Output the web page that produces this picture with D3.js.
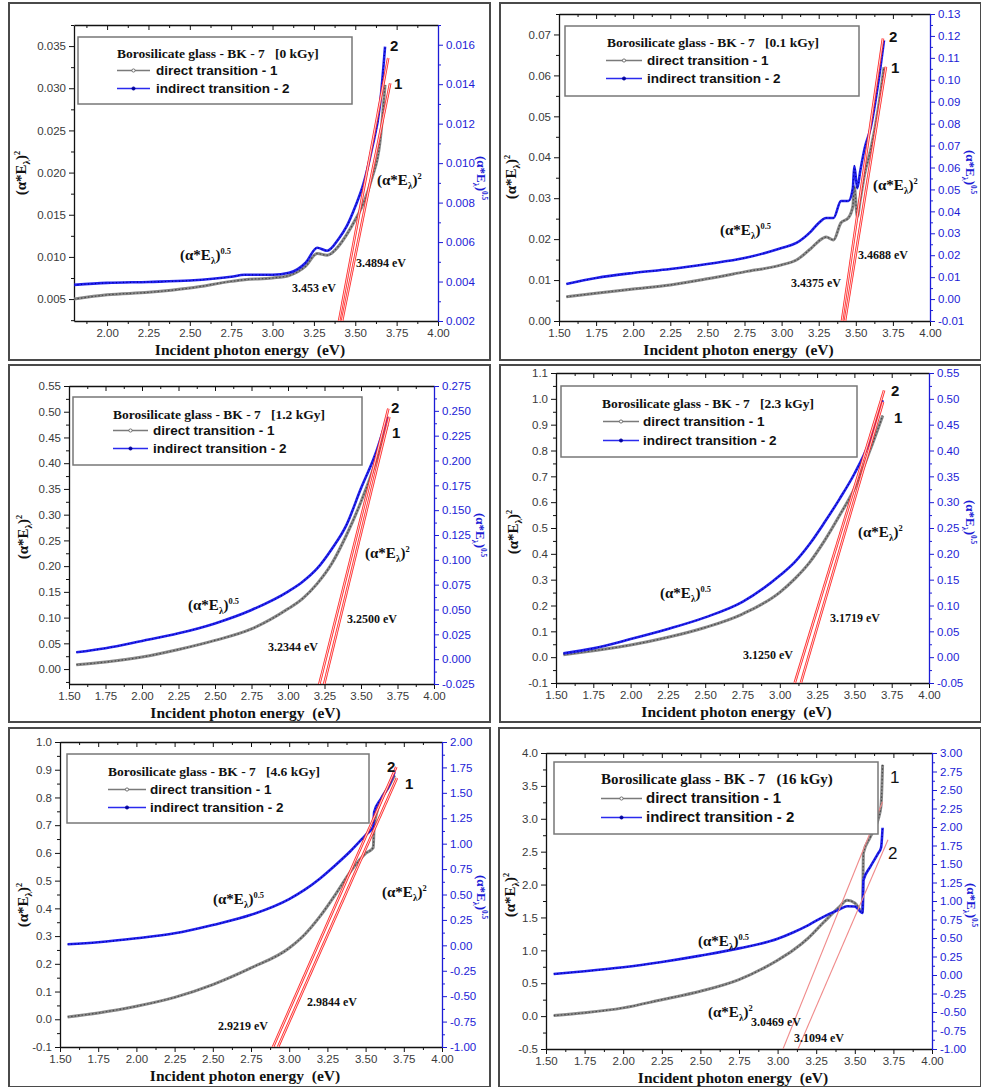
<!DOCTYPE html>
<html>
<head>
<meta charset="utf-8">
<script src="https://cdn.jsdelivr.net/npm/d3@7"></script>
<style>
  body { margin: 0; background: #fff; }
  svg { display: block; }
</style>
</head>
<body>
<div id="chart"></div>
<script>
// ---- data ----
const xTicksP1 = [2.00, 2.25, 2.50, 2.75, 3.00, 3.25, 3.50, 3.75, 4.00];
const xTicksAll = [1.50, 1.75, 2.00, 2.25, 2.50, 2.75, 3.00, 3.25, 3.50, 3.75, 4.00];

// 0 kGy
const p1Energy   = [1.8, 2.0, 2.25, 2.5, 2.75, 2.83, 3.0, 3.1, 3.2, 3.27, 3.33, 3.4, 3.45, 3.5, 3.55, 3.6, 3.65, 3.68];
const p1Direct   = [0.0050, 0.0055, 0.0058, 0.0063, 0.0071, 0.0073, 0.0075, 0.0078, 0.0089, 0.0104, 0.0102, 0.0113, 0.0127, 0.0144, 0.0164, 0.0193, 0.0237, 0.0304];
const p1Indirect = [0.00383, 0.00393, 0.00398, 0.00405, 0.00424, 0.00434, 0.00434, 0.00444, 0.00495, 0.00571, 0.00556, 0.00617, 0.00683, 0.0078, 0.00897, 0.0107, 0.0130, 0.0159];
const p1Fits = [[3.402, 0.0024, 3.699, 0.0336], [3.420, 0.0024, 3.711, 0.0306]];
const p1Gaps = ["3.453 eV", "3.4894 eV"];
const p1LeftTicks = [0.005, 0.010, 0.015, 0.020, 0.025, 0.030, 0.035];
const p1RightTicks = [0.002, 0.004, 0.006, 0.008, 0.010, 0.012, 0.014, 0.016];

// 0.1 kGy
const p2Energy   = [1.55, 1.75, 2.0, 2.25, 2.5, 2.75, 3.0, 3.1, 3.2, 3.25, 3.3, 3.35, 3.4, 3.45, 3.48, 3.49, 3.51, 3.53, 3.56, 3.6, 3.65, 3.69];
const p2Direct   = [0.0059, 0.0068, 0.0078, 0.0088, 0.0103, 0.0120, 0.0137, 0.0149, 0.0178, 0.0195, 0.0205, 0.0198, 0.0240, 0.0252, 0.0280, 0.0328, 0.0255, 0.0296, 0.0360, 0.0418, 0.0516, 0.0620];
const p2Indirect = [0.0069, 0.0096, 0.0119, 0.0137, 0.0160, 0.0187, 0.0233, 0.0256, 0.0310, 0.0347, 0.0370, 0.0370, 0.0447, 0.0447, 0.0506, 0.0607, 0.0506, 0.0584, 0.0689, 0.0780, 0.0980, 0.1180];
const p2Fits = [[3.407, 0, 3.683, 0.069], [3.427, 0, 3.703, 0.0621]];
const p2Gaps = ["3.4375 eV", "3.4688 eV"];
const p2LeftTicks = [0.00, 0.01, 0.02, 0.03, 0.04, 0.05, 0.06, 0.07];
const p2RightTicks = [-0.01, 0.00, 0.01, 0.02, 0.03, 0.04, 0.05, 0.06, 0.07, 0.08, 0.09, 0.10, 0.11, 0.12, 0.13];

// 1.2 kGy
const p3Energy   = [1.55, 1.75, 2.0, 2.25, 2.5, 2.75, 3.0, 3.1, 3.2, 3.3, 3.4, 3.5, 3.6, 3.68];
const p3Direct   = [0.0084, 0.0136, 0.0233, 0.038, 0.0557, 0.078, 0.117, 0.137, 0.166, 0.205, 0.260, 0.325, 0.402, 0.475];
const p3Indirect = [0.0069, 0.011, 0.0183, 0.026, 0.036, 0.0495, 0.068, 0.078, 0.0914, 0.111, 0.135, 0.172, 0.207, 0.244];
const p3Fits = [[3.214, -0.03, 3.687, 0.506], [3.247, -0.03, 3.694, 0.490]];
const p3Gaps = ["3.2344 eV", "3.2500 eV"];
const p3LeftTicks = [0.00, 0.05, 0.10, 0.15, 0.20, 0.25, 0.30, 0.35, 0.40, 0.45, 0.50, 0.55];
const p3RightTicks = [-0.025, 0.000, 0.025, 0.050, 0.075, 0.100, 0.125, 0.150, 0.175, 0.200, 0.225, 0.250, 0.275];

// 2.3 kGy
const p4Energy   = [1.55, 1.75, 2.0, 2.25, 2.5, 2.75, 3.0, 3.1, 3.2, 3.3, 3.4, 3.5, 3.6, 3.69];
const p4Direct   = [0.0095, 0.025, 0.047, 0.077, 0.115, 0.167, 0.251, 0.303, 0.367, 0.451, 0.548, 0.652, 0.794, 0.935];
const p4Indirect = [0.0074, 0.017, 0.035, 0.0545, 0.077, 0.107, 0.158, 0.184, 0.219, 0.261, 0.306, 0.355, 0.416, 0.497];
const p4Fits = [[3.100, -0.1, 3.699, 1.033], [3.141, -0.1, 3.692, 0.988]];
const p4Gaps = ["3.1250 eV", "3.1719 eV"];
const p4LeftTicks = [-0.1, 0.0, 0.1, 0.2, 0.3, 0.4, 0.5, 0.6, 0.7, 0.8, 0.9, 1.0, 1.1];
const p4RightTicks = [-0.05, 0.00, 0.05, 0.10, 0.15, 0.20, 0.25, 0.30, 0.35, 0.40, 0.45, 0.50, 0.55];

// 4.6 kGy
const p5Energy   = [1.55, 1.75, 2.0, 2.25, 2.5, 2.75, 3.0, 3.1, 3.2, 3.3, 3.4, 3.5, 3.55, 3.556, 3.6, 3.65, 3.69];
const p5Direct   = [0.0084, 0.023, 0.047, 0.079, 0.125, 0.185, 0.257, 0.305, 0.370, 0.448, 0.532, 0.598, 0.619, 0.694, 0.790, 0.838, 0.880];
const p5Indirect = [0.010, 0.030, 0.069, 0.118, 0.200, 0.300, 0.455, 0.545, 0.655, 0.785, 0.925, 1.085, 1.166, 1.310, 1.440, 1.560, 1.705];
const p5Fits = [[2.894, -0.1, 3.701, 0.910], [2.927, -0.1, 3.705, 0.870]];
const p5Gaps = ["2.9219 eV", "2.9844 eV"];
const p5LeftTicks = [-0.1, 0.0, 0.1, 0.2, 0.3, 0.4, 0.5, 0.6, 0.7, 0.8, 0.9, 1.0];
const p5RightTicks = [-1.00, -0.75, -0.50, -0.25, 0.00, 0.25, 0.50, 0.75, 1.00, 1.25, 1.50, 1.75, 2.00];

// 16 kGy
const p6Energy   = [1.55, 1.75, 2.0, 2.25, 2.5, 2.75, 3.0, 3.1, 3.2, 3.3, 3.4, 3.45, 3.5, 3.55, 3.556, 3.6, 3.65, 3.67, 3.68];
const p6Direct   = [0.008, 0.050, 0.125, 0.250, 0.378, 0.555, 0.850, 1.000, 1.190, 1.430, 1.660, 1.760, 1.720, 1.590, 2.480, 2.720, 2.980, 3.200, 3.820];
const p6Indirect = [0.014, 0.050, 0.104, 0.176, 0.262, 0.360, 0.490, 0.575, 0.675, 0.790, 0.885, 0.930, 0.925, 0.838, 1.280, 1.460, 1.640, 1.720, 1.990];
const p6Fits = [[3.035, -0.5, 3.680, 3.26], [3.132, -0.5, 3.715, 2.68]];
const p6Gaps = ["3.0469 eV", "3.1094 eV"];
const p6LeftTicks = [-0.5, 0.0, 0.5, 1.0, 1.5, 2.0, 2.5, 3.0, 3.5, 4.0];
const p6RightTicks = [-1.00, -0.75, -0.50, -0.25, 0.00, 0.25, 0.50, 0.75, 1.00, 1.25, 1.50, 1.75, 2.00, 2.25, 2.50, 2.75, 3.00];

const doses = ["[0 kGy]", "[0.1 kGy]", "[1.2 kGy]", "[2.3 kGy]", "[4.6 kGy]", "(16 kGy)"];
const seriesNames = ["direct transition - 1", "indirect transition - 2"];

// ---- drawing ----
const SERIF = "'Liberation Serif','Times New Roman',serif";
const SANS = "'Liberation Sans',Arial,sans-serif";
const BLUE = "#1c1cd6";

const svg = d3.select("#chart").append("svg").attr("width", 981).attr("height", 1087);

const panels = [
  { box: [9, 3, 490, 360], plot: [74, 25, 438, 321], xDom: [1.8, 4.0], lDom: [0.0024, 0.0375], rDom: [0.002, 0.017],
    xTicks: xTicksP1, lTicks: p1LeftTicks, rTicks: p1RightTicks, lFmt: ".3f", rFmt: ".3f",
    energy: p1Energy, direct: p1Direct, indirect: p1Indirect, fits: p1Fits, gaps: p1Gaps, dose: doses[0],
    legend: [78, 37, 352, 104], title: [117, 58], line: [117, 150], text: 156, rows: [75, 93],
    gapPos: [[292, 292], [356, 267]], halfPos: [180, 260], sqPos: [377, 185],
    nums: [["2", 390, 51], ["1", 394, 89]], yLab: [26, 173], rLab: [477, 178] },
  { box: [500, 3, 981, 360], plot: [559, 14, 930, 321], xDom: [1.5, 4.0], lDom: [0, 0.075], rDom: [-0.01, 0.13],
    xTicks: xTicksAll, lTicks: p2LeftTicks, rTicks: p2RightTicks, lFmt: ".2f", rFmt: ".2f",
    energy: p2Energy, direct: p2Direct, indirect: p2Indirect, fits: p2Fits, gaps: p2Gaps, dose: doses[1],
    legend: [565, 26, 859, 96], title: [607, 47], line: [606, 642], text: 647, rows: [65, 83],
    gapPos: [[791, 287], [858, 259]], halfPos: [720, 235], sqPos: [873, 190],
    nums: [["2", 889, 42], ["1", 891, 73]], yLab: [516, 177], rLab: [966, 172] },
  { box: [9, 365, 490, 722], plot: [69, 386, 434, 684], xDom: [1.5, 4.0], lDom: [-0.029, 0.55], rDom: [-0.025, 0.275],
    xTicks: xTicksAll, lTicks: p3LeftTicks, rTicks: p3RightTicks, lFmt: ".2f", rFmt: ".3f",
    energy: p3Energy, direct: p3Direct, indirect: p3Indirect, fits: p3Fits, gaps: p3Gaps, dose: doses[2],
    legend: [73, 397, 362, 465], title: [113, 419], line: [113, 148], text: 153, rows: [435, 453],
    gapPos: [[268, 651], [347, 623]], halfPos: [188, 610], sqPos: [365, 558],
    nums: [["2", 391, 413], ["1", 392, 438]], yLab: [28, 537], rLab: [476, 535] },
  { box: [500, 365, 981, 722], plot: [556, 373, 929, 683], xDom: [1.5, 4.0], lDom: [-0.1, 1.1], rDom: [-0.05, 0.55],
    xTicks: xTicksAll, lTicks: p4LeftTicks, rTicks: p4RightTicks, lFmt: ".1f", rFmt: ".2f",
    energy: p4Energy, direct: p4Direct, indirect: p4Indirect, fits: p4Fits, gaps: p4Gaps, dose: doses[3],
    legend: [561, 386, 857, 457], title: [602, 408], line: [603, 639], text: 643, rows: [426, 445],
    gapPos: [[743, 659], [830, 622]], halfPos: [660, 598], sqPos: [858, 537],
    nums: [["2", 891, 396], ["1", 894, 423]], yLab: [518, 532], rLab: [966, 522] },
  { box: [9, 728, 490, 1087], plot: [60, 742, 442, 1047], xDom: [1.5, 4.0], lDom: [-0.1, 1.0], rDom: [-1.0, 2.0],
    xTicks: xTicksAll, lTicks: p5LeftTicks, rTicks: p5RightTicks, lFmt: ".1f", rFmt: ".2f",
    energy: p5Energy, direct: p5Direct, indirect: p5Indirect, fits: p5Fits, gaps: p5Gaps, dose: doses[4],
    legend: [67, 754, 369, 823], title: [108, 776], line: [108, 146], text: 150, rows: [794, 812],
    gapPos: [[218, 1030], [307, 1006]], halfPos: [213, 904], sqPos: [382, 897],
    nums: [["2", 387, 772], ["1", 405, 789]], yLab: [28, 905], rLab: [477, 897] },
  { box: [499, 728, 981, 1087], plot: [546, 753, 932, 1049], xDom: [1.5, 4.0], lDom: [-0.5, 4.0], rDom: [-1.0, 3.0],
    xTicks: xTicksAll, lTicks: p6LeftTicks, rTicks: p6RightTicks, lFmt: ".1f", rFmt: ".2f",
    energy: p6Energy, direct: p6Direct, indirect: p6Indirect, fits: p6Fits, gaps: p6Gaps, dose: doses[5],
    legend: [554, 762, 878, 834], title: [601, 784], line: [601, 642], text: 646, rows: [803, 822],
    gapPos: [[751, 1026], [794, 1042]], halfPos: [698, 946], sqPos: [708, 1017],
    nums: [["1", 890, 783], ["2", 888, 859]], yLab: [515, 895], rLab: [967, 905], big: true }
];

function fmt(spec) {
  const f = d3.format(spec);
  return v => f(v).replace("\u2212", "-");
}

// midpoints between major ticks that fall inside the domain
function minorTicks(ticks, dom) {
  const step = ticks[1] - ticks[0];
  const lo = Math.min(dom[0], dom[1]), hi = Math.max(dom[0], dom[1]);
  const out = [];
  for (let v = ticks[0] - step / 2; v <= hi + 1e-9; v += step) {
    if (v >= lo - 1e-9) out.push(v);
  }
  return out;
}

// (α*E_λ)^power
function alphaText(t, power, size) {
  t.append("tspan").text("(\u03b1*E");
  t.append("tspan").attr("dy", size * 0.28).attr("font-size", size * 0.62).text("\u03bb");
  t.append("tspan").attr("dy", -size * 0.28).text(")");
  t.append("tspan").attr("dy", -size * 0.38).attr("font-size", size * 0.56).text(power);
}

function styleAxis(a, color, textColor) {
  a.attr("color", color);
  a.selectAll("text").attr("font-family", SANS).attr("font-size", 11.5).attr("fill", textColor);
  a.selectAll("line").attr("stroke-width", 1);
  a.select(".domain").attr("stroke-width", 1.3);
}

panels.forEach((p, i) => {
  const g = svg.append("g");
  const [bx0, by0, bx1, by1] = p.box;
  const [px0, py0, px1, py1] = p.plot;

  const boxClip = "box" + i, plotClip = "plot" + i;
  const defs = g.append("defs");
  defs.append("clipPath").attr("id", boxClip).append("rect")
    .attr("x", bx0).attr("y", by0).attr("width", bx1 - bx0).attr("height", by1 - by0);
  defs.append("clipPath").attr("id", plotClip).append("rect")
    .attr("x", px0).attr("y", py0).attr("width", px1 - px0).attr("height", py1 - py0);

  const x = d3.scaleLinear().domain(p.xDom).range([px0, px1]);
  const yl = d3.scaleLinear().domain(p.lDom).range([py1, py0]);
  const yr = d3.scaleLinear().domain(p.rDom).range([py1, py0]);

  const inner = g.append("g").attr("clip-path", `url(#${boxClip})`);

  // axes
  const xMinor = minorTicks(p.xTicks, p.xDom);
  const lMinor = minorTicks(p.lTicks, p.lDom);
  const rMinor = minorTicks(p.rTicks, p.rDom);

  const bottom = inner.append("g").attr("transform", `translate(0,${py1})`)
    .call(d3.axisBottom(x).tickValues(p.xTicks).tickFormat(fmt(".2f")).tickSize(5).tickSizeOuter(0).tickPadding(3));
  styleAxis(bottom, "#111", "#3a3a3a");
  inner.append("g").attr("transform", `translate(0,${py1})`)
    .call(d3.axisBottom(x).tickValues(xMinor).tickFormat("").tickSize(3).tickSizeOuter(0))
    .call(a => a.select(".domain").remove()).attr("color", "#111");

  const top = inner.append("g").attr("transform", `translate(0,${py0})`)
    .call(d3.axisBottom(x).tickValues(p.xTicks).tickFormat("").tickSize(5).tickSizeOuter(0));
  styleAxis(top, "#111", "#111");
  inner.append("g").attr("transform", `translate(0,${py0})`)
    .call(d3.axisBottom(x).tickValues(xMinor).tickFormat("").tickSize(3).tickSizeOuter(0))
    .call(a => a.select(".domain").remove()).attr("color", "#111");

  const left = inner.append("g").attr("transform", `translate(${px0},0)`)
    .call(d3.axisLeft(yl).tickValues(p.lTicks).tickFormat(fmt(p.lFmt)).tickSize(5).tickSizeOuter(0).tickPadding(3));
  styleAxis(left, "#111", "#3a3a3a");
  inner.append("g").attr("transform", `translate(${px0},0)`)
    .call(d3.axisLeft(yl).tickValues(lMinor).tickFormat("").tickSize(3).tickSizeOuter(0))
    .call(a => a.select(".domain").remove()).attr("color", "#111");

  const right = inner.append("g").attr("transform", `translate(${px1},0)`)
    .call(d3.axisRight(yr).tickValues(p.rTicks).tickFormat(fmt(p.rFmt)).tickSize(5).tickSizeOuter(0).tickPadding(3));
  styleAxis(right, BLUE, BLUE);
  inner.append("g").attr("transform", `translate(${px1},0)`)
    .call(d3.axisRight(yr).tickValues(rMinor).tickFormat("").tickSize(3).tickSizeOuter(0))
    .call(a => a.select(".domain").remove()).attr("color", BLUE);

  // axis titles
  inner.append("text").attr("x", (px0 + px1) / 2 - 6).attr("y", py1 + 34)
    .attr("text-anchor", "middle").attr("font-family", SERIF).attr("font-weight", "bold")
    .attr("font-size", 15.5).style("white-space", "pre").attr("fill", "#111")
    .text("Incident photon energy  (eV)");

  const yt = inner.append("text").attr("transform", `translate(${p.yLab[0]},${p.yLab[1]}) rotate(-90)`)
    .attr("text-anchor", "middle").attr("font-family", SERIF).attr("font-weight", "bold")
    .attr("font-size", 15).attr("fill", "#111");
  alphaText(yt, "2", 15);

  const rt = g.append("text").attr("transform", `translate(${p.rLab[0]},${p.rLab[1]}) rotate(90)`)
    .attr("text-anchor", "middle").attr("font-family", SERIF).attr("font-weight", "bold")
    .attr("font-size", 13).attr("fill", BLUE);
  alphaText(rt, "0.5", 13);

  // curves
  const plot = inner.append("g").attr("clip-path", `url(#${plotClip})`);
  const rows = p.energy.map((e, k) => ({ e, d: p.direct[k], ind: p.indirect[k] }));

  const lineDirect = d3.line().x(r => x(r.e)).y(r => yl(r.d)).curve(d3.curveMonotoneX);
  const lineIndirect = d3.line().x(r => x(r.e)).y(r => yr(r.ind)).curve(d3.curveMonotoneX);

  plot.append("path").datum(rows).attr("d", lineDirect)
    .attr("fill", "none").attr("stroke", "#8a8a8a").attr("stroke-width", 3);
  plot.append("path").datum(rows).attr("d", lineDirect)
    .attr("fill", "none").attr("stroke", "#4a4a4a").attr("stroke-width", 1.2).attr("stroke-dasharray", "1.5 2");
  plot.append("path").datum(rows).attr("d", lineIndirect)
    .attr("fill", "none").attr("stroke", "#2323ee").attr("stroke-width", 2.6);
  plot.append("path").datum(rows).attr("d", lineIndirect)
    .attr("fill", "none").attr("stroke", "#00009a").attr("stroke-width", 1.2).attr("stroke-dasharray", "1 2.5");

  // fitted tangent lines
  p.fits.forEach(f => {
    if (p.big) {
      plot.append("line").attr("x1", x(f[0])).attr("y1", yl(f[1])).attr("x2", x(f[2])).attr("y2", yl(f[3]))
        .attr("stroke", "#f08a8a").attr("stroke-width", 1.1);
    } else {
      plot.append("line").attr("x1", x(f[0])).attr("y1", yl(f[1])).attr("x2", x(f[2])).attr("y2", yl(f[3]))
        .attr("stroke", "#ff2a2a").attr("stroke-width", 2.6);
      plot.append("line").attr("x1", x(f[0])).attr("y1", yl(f[1])).attr("x2", x(f[2])).attr("y2", yl(f[3]))
        .attr("stroke", "#fff").attr("stroke-width", 0.8);
    }
  });

  // annotations
  p.gaps.forEach((t, k) => {
    inner.append("text").attr("x", p.gapPos[k][0]).attr("y", p.gapPos[k][1])
      .attr("font-family", SERIF).attr("font-weight", "bold").attr("font-size", 12).attr("fill", "#111").text(t);
  });
  const half = inner.append("text").attr("x", p.halfPos[0]).attr("y", p.halfPos[1])
    .attr("font-family", SERIF).attr("font-weight", "bold").attr("font-size", 15).attr("fill", "#111");
  alphaText(half, "0.5", 15);
  const sq = inner.append("text").attr("x", p.sqPos[0]).attr("y", p.sqPos[1])
    .attr("font-family", SERIF).attr("font-weight", "bold").attr("font-size", 15).attr("fill", "#111");
  alphaText(sq, "2", 15);
  p.nums.forEach(n => {
    inner.append("text").attr("x", n[1]).attr("y", n[2]).attr("font-family", SANS)
      .attr("font-weight", p.big ? "normal" : "bold").attr("font-size", p.big ? 17 : 15).attr("fill", "#111").text(n[0]);
  });

  // legend
  const [lx0, ly0, lx1, ly1] = p.legend;
  const lg = inner.append("g");
  lg.append("rect").attr("x", lx0).attr("y", ly0).attr("width", lx1 - lx0).attr("height", ly1 - ly0)
    .attr("fill", "#fff").attr("stroke", "#777").attr("stroke-width", 1.5);
  lg.append("text").attr("x", p.title[0]).attr("y", p.title[1])
    .attr("font-family", SERIF).attr("font-weight", "bold").attr("font-size", p.big ? 15 : 13.5)
    .style("white-space", "pre").attr("fill", "#111")
    .text("Borosilicate glass - BK - 7   " + p.dose);
  const legendColors = [["#7a7a7a", "#555"], ["#2a2aee", "#00009a"]];
  seriesNames.forEach((name, k) => {
    const yy = p.rows[k] - 4.5;
    lg.append("line").attr("x1", p.line[0]).attr("x2", p.line[1]).attr("y1", yy).attr("y2", yy)
      .attr("stroke", legendColors[k][0]).attr("stroke-width", 1.6);
    lg.append("circle").attr("cx", (p.line[0] + p.line[1]) / 2).attr("cy", yy).attr("r", 1.6)
      .attr("fill", k === 0 ? "#fff" : legendColors[k][1]).attr("stroke", legendColors[k][1]).attr("stroke-width", 0.8);
    lg.append("text").attr("x", p.text).attr("y", p.rows[k])
      .attr("font-family", SANS).attr("font-weight", "bold").attr("font-size", p.big ? 15 : 13.5)
      .attr("fill", "#111").text(name);
  });

  // panel frame
  g.append("rect").attr("x", bx0).attr("y", by0).attr("width", bx1 - bx0).attr("height", by1 - by0)
    .attr("fill", "none").attr("stroke", "#4a4a4a").attr("stroke-width", 2);
});
</script>
</body>
</html>
